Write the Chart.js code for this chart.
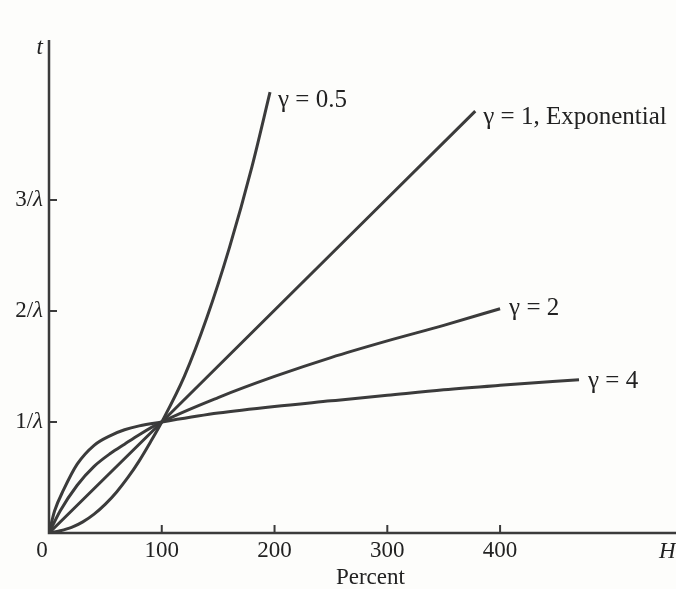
<!DOCTYPE html>
<html>
<head>
<meta charset="utf-8">
<script src="https://cdn.jsdelivr.net/npm/chart.js@4.4.1/dist/chart.umd.min.js"></script>
<style>
  html, body { margin: 0; padding: 0; background: #fdfdfb; }
  #wrap { width: 676px; height: 589px; }
</style>
</head>
<body>
<div id="wrap"><canvas id="chart" width="676" height="589"></canvas></div>
<script>
"use strict";

// cumulative hazard H (percent) against time t (in units of 1/lambda)
const h_half = [0, 10, 20, 30, 40, 50, 60, 70, 80, 90, 100, 120, 140, 160, 180, 196];
const t_half = [0, 0.02, 0.05, 0.1, 0.17, 0.26, 0.37, 0.5, 0.65, 0.82, 1.0, 1.41, 1.94, 2.57, 3.3, 3.97];

const h_one = [0, 100, 378];
const t_one = [0, 1.0, 3.8];

const h_two = [0, 10, 25, 40, 55, 67, 80, 100, 150, 200, 250, 300, 350, 400];
const t_two = [0, 0.2, 0.43, 0.6, 0.72, 0.8, 0.885, 1.0, 1.22, 1.41, 1.58, 1.73, 1.87, 2.02];

const h_four = [0, 5, 13, 25, 40, 55, 67, 80, 100, 150, 200, 250, 300, 350, 400, 470];
const t_four = [0, 0.2, 0.39, 0.62, 0.79, 0.88, 0.93, 0.965, 1.0, 1.08, 1.14, 1.19, 1.24, 1.29, 1.33, 1.38];

const curve_labels = ['\u03b3 = 0.5', '\u03b3 = 1, Exponential', '\u03b3 = 2', '\u03b3 = 4'];

const x_ticks = [100, 200, 300, 400];
const y_ticks = [1, 2, 3];
const y_tick_labels = ['1/', '2/', '3/'];

const ink = '#3b3b3b';
const serif = '"Liberation Serif", "DejaVu Serif", serif';

function points(hs, ts) {
  return hs.map(function(h, i) { return {x: h, y: ts[i]}; });
}

function curve(label, hs, ts) {
  return {
    label: label,
    data: points(hs, ts),
    showLine: true,
    borderColor: ink,
    borderWidth: 3,
    pointRadius: 0,
    cubicInterpolationMode: 'monotone',
    fill: false
  };
}

// axes, inward ticks and all text are drawn here from the chart's scales
const axes_plugin = {
  id: 'axes_plugin',
  afterDatasetsDraw: function(chart) {
    const ctx = chart.ctx;
    const xs = chart.scales.x, ys = chart.scales.y;
    const x0 = xs.getPixelForValue(0), y0 = ys.getPixelForValue(0);
    const area = chart.chartArea;

    ctx.save();
    ctx.strokeStyle = ink;
    ctx.lineWidth = 2.5;
    ctx.beginPath();
    ctx.moveTo(x0, area.top);
    ctx.lineTo(x0, y0);
    ctx.lineTo(area.right, y0);
    ctx.stroke();

    ctx.lineWidth = 2;
    ctx.beginPath();
    x_ticks.forEach(function(v) {
      const px = xs.getPixelForValue(v);
      ctx.moveTo(px, y0);
      ctx.lineTo(px, y0 - 8);
    });
    y_ticks.forEach(function(v) {
      const py = ys.getPixelForValue(v);
      ctx.moveTo(x0, py);
      ctx.lineTo(x0 + 8, py);
    });
    ctx.stroke();

    ctx.fillStyle = '#222';
    ctx.font = '23px ' + serif;
    ctx.textBaseline = 'middle';
    ctx.textAlign = 'center';
    x_ticks.forEach(function(v) {
      ctx.fillText(String(v), xs.getPixelForValue(v), y0 + 18);
    });
    ctx.fillText('0', x0 - 7, y0 + 18);
    ctx.fillText('Percent', xs.getPixelForValue(285), y0 + 45);

    // tick labels: upright numerator, italic lambda
    y_ticks.forEach(function(v, i) {
      const py = ys.getPixelForValue(v);
      ctx.font = 'italic 23px ' + serif;
      ctx.textAlign = 'right';
      ctx.fillText('\u03bb', x0 - 6, py);
      const w = ctx.measureText('\u03bb').width;
      ctx.font = '23px ' + serif;
      ctx.fillText(y_tick_labels[i], x0 - 6 - w, py);
    });

    ctx.font = 'italic 23px ' + serif;
    ctx.textAlign = 'right';
    ctx.fillText('t', x0 - 6, area.top + 8);
    ctx.textAlign = 'left';
    ctx.fillText('H', area.right - 17, y0 + 19);

    // curve names beside the end of each curve
    ctx.font = '25px ' + serif;
    const offsets = [[8, 8], [8, 6], [9, 0], [9, 2]];
    chart.data.datasets.forEach(function(ds, i) {
      const last = ds.data[ds.data.length - 1];
      ctx.fillText(curve_labels[i],
                   xs.getPixelForValue(last.x) + offsets[i][0],
                   ys.getPixelForValue(last.y) + offsets[i][1]);
    });
    ctx.restore();
  }
};

const chart = new Chart('chart', {
  type: 'scatter',
  data: {
    datasets: [
      curve(curve_labels[0], h_half, t_half),
      curve(curve_labels[1], h_one, t_one),
      curve(curve_labels[2], h_two, t_two),
      curve(curve_labels[3], h_four, t_four)
    ]
  },
  options: {
    responsive: false,
    animation: false,
    layout: { padding: { left: 49, right: 0, top: 40, bottom: 56 } },
    plugins: { legend: { display: false }, tooltip: { enabled: false } },
    scales: {
      x: { type: 'linear', min: 0, max: 556, display: false },
      y: { type: 'linear', min: 0, max: 4.44, display: false }
    }
  },
  plugins: [axes_plugin]
});
</script>
</body>
</html>
